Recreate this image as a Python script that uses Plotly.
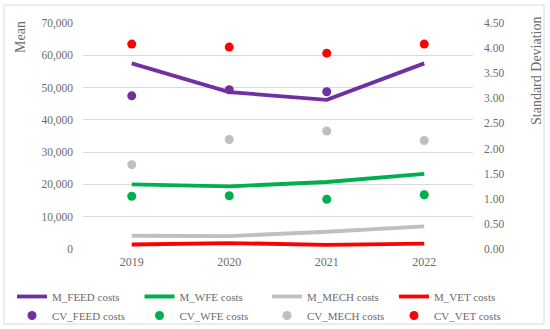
import plotly.graph_objects as go

years = ["2019", "2020", "2021", "2022"]

m_feed = [57500, 48600, 46200, 57500]
m_wfe = [20000, 19400, 20750, 23300]
m_mech = [4100, 4000, 5350, 7000]
m_vet = [1400, 1850, 1250, 1650]

cv_feed = [3.05, 3.17, 3.13, None]
cv_wfe = [1.05, 1.06, 0.99, 1.08]
cv_mech = [1.68, 2.18, 2.35, 2.16]
cv_vet = [4.08, 4.02, 3.90, 4.08]

PURPLE = "#7030A0"
GREEN = "#00B050"
GRAY = "#BFBFBF"
RED = "#FF0000"
TXT = "#6b6b6b"
FONT = "Liberation Serif"

# plot-area geometry (pixels) used to convert positions into paper coordinates
L, R, T, B = 83, 473, 23, 249
PW, PH = R - L, B - T


def px(x):
    return (x - L) / PW


def py(y):
    return (B - y) / PH


groups = [
    ("M_FEED costs", m_feed, "CV_FEED costs", cv_feed, PURPLE),
    ("M_WFE costs", m_wfe, "CV_WFE costs", cv_wfe, GREEN),
    ("M_MECH costs", m_mech, "CV_MECH costs", cv_mech, GRAY),
    ("M_VET costs", m_vet, "CV_VET costs", cv_vet, RED),
]
legend_ids = ["legend", "legend2", "legend3", "legend4"]
legend_left = [12, 139.5, 267, 394]

fig = go.Figure()
for (mname, mvals, cname, cvals, col), lid in zip(groups, legend_ids):
    fig.add_trace(go.Scatter(x=years, y=mvals, name=mname, mode="lines",
                             line=dict(color=col, width=3.8), yaxis="y", legend=lid))
for (mname, mvals, cname, cvals, col), lid in zip(groups, legend_ids):
    fig.add_trace(go.Scatter(x=years, y=cvals, name=cname, mode="markers",
                             marker=dict(color=col, size=9), yaxis="y2", legend=lid))

layout_legends = {}
for lid, lx in zip(legend_ids, legend_left):
    layout_legends[lid] = dict(
        orientation="v", x=px(lx), xanchor="left", y=py(282), yanchor="top",
        tracegroupgap=0, bgcolor="rgba(0,0,0,0)", itemsizing="trace",
        font=dict(family=FONT, size=11, color=TXT))

fig.update_layout(
    width=550, height=329,
    margin=dict(l=L, r=550 - R, t=T, b=329 - B, autoexpand=False),
    paper_bgcolor="white", plot_bgcolor="white",
    font=dict(family=FONT, color=TXT, size=11.5),
    showlegend=True,
    xaxis=dict(type="category", showgrid=False, zeroline=False, showline=False,
               ticks="", tickfont=dict(family=FONT, size=12, color=TXT), range=[-0.5, 3.5],
               ticklabelstandoff=4),
    yaxis=dict(range=[0, 70000], dtick=10000, tickformat=",", showgrid=True,
               gridcolor="#d9d9d9", gridwidth=1, zeroline=False, showline=False,
               ticks="", tickfont=dict(family=FONT, size=11.5, color=TXT), ticklabelstandoff=9),
    yaxis2=dict(range=[0, 4.5], dtick=0.5, tickformat=".2f", overlaying="y", side="right",
                showgrid=False, zeroline=False, showline=False, ticks="",
                tickfont=dict(family=FONT, size=11.5, color=TXT), ticklabelstandoff=10),
    annotations=[
        dict(text="Mean", textangle=-90, xref="paper", yref="paper",
             x=px(21), y=py(19), xanchor="center", yanchor="top",
             showarrow=False, font=dict(family=FONT, size=14, color=TXT)),
        dict(text="Standard Deviation", textangle=-90, xref="paper", yref="paper",
             x=px(537), y=py(15), xanchor="center", yanchor="top",
             showarrow=False, font=dict(family=FONT, size=14, color=TXT)),
    ],
    shapes=[dict(type="rect", xref="paper", yref="paper",
                 x0=px(4), x1=px(544), y0=py(324), y1=py(5),
                 line=dict(color="#d9d9d9", width=1), fillcolor="rgba(0,0,0,0)", layer="below")],
    **layout_legends,
)

fig.write_html("out.html", config={"displayModeBar": False},
               post_script="document.body.style.margin='0';")
